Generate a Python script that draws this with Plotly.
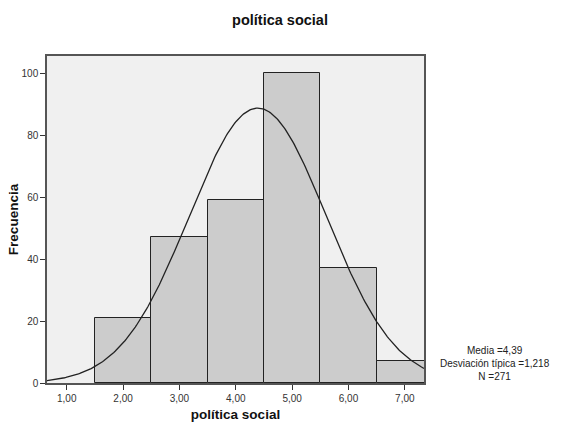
import numpy as np
import plotly.graph_objects as go

bin_centers = [2, 3, 4, 5, 6, 7]
counts = [21, 47, 59, 100, 37, 7]
mean_val = 4.39
sd_val = 1.218
n_val = 271
bin_width = 1.0
x_tick_vals = [1, 2, 3, 4, 5, 6, 7]
x_tick_text = ["1,00", "2,00", "3,00", "4,00", "5,00", "6,00", "7,00"]
y_tick_vals = [0, 20, 40, 60, 80, 100]

xr = [0.65, 7.34]
xs = np.linspace(xr[0], xr[1], 300)
ys = n_val * bin_width / (sd_val * np.sqrt(2 * np.pi)) * np.exp(-0.5 * ((xs - mean_val) / sd_val) ** 2)

fig = go.Figure()
fig.add_trace(go.Bar(x=bin_centers, y=counts, width=bin_width,
                     marker=dict(color="#cccccc", line=dict(color="#222222", width=1)),
                     hoverinfo="skip"))
fig.add_trace(go.Scatter(x=xs, y=ys, mode="lines", line=dict(color="#222222", width=1.3),
                         hoverinfo="skip"))

font_family = "Liberation Sans, Arial, sans-serif"
fig.update_layout(
    width=561, height=425,
    margin=dict(l=47, r=137, t=56, b=42, autoexpand=False),
    paper_bgcolor="white", plot_bgcolor="#f0f0f0",
    showlegend=False, bargap=0,
    font=dict(family=font_family, size=11, color="#333333"),
    title=dict(text="<b>política social</b>", x=280 / 561, xanchor="center",
               y=1 - 20 / 425, yanchor="middle", font=dict(size=14.5, color="#111111")),
)
fig.update_xaxes(range=xr, tickvals=x_tick_vals, ticktext=x_tick_text,
                 ticks="outside", ticklen=5, tickcolor="#333333",
                 showgrid=False, zeroline=False,
                 showline=True, linecolor="#555555", linewidth=1.5, mirror=True,
                 title=dict(text="<b>política social</b>", font=dict(size=13.5, color="#111111"),
                            standoff=7),
                 tickfont=dict(size=10, color="#333333"))
fig.update_yaxes(range=[0, 105.6], tickvals=y_tick_vals,
                 ticks="outside", ticklen=5, tickcolor="#333333",
                 showgrid=False, zeroline=False,
                 showline=True, linecolor="#555555", linewidth=1.5, mirror=True,
                 title=dict(text="<b>Frecuencia</b>", font=dict(size=13.5, color="#111111"),
                            standoff=0),
                 tickfont=dict(size=10, color="#333333"))
fig.add_annotation(xref="paper", yref="paper", x=(495 - 47) / (424 - 47), y=(383 - 363) / (383 - 56),
                   text=f"Media ={str(mean_val).replace('.', ',')}<br>Desviación típica ={str(sd_val).replace('.', ',')}<br>N ={n_val}",
                   showarrow=False, xanchor="center", yanchor="middle", align="center",
                   font=dict(size=10, color="#222222"))
fig.write_html("out.html", config={"displayModeBar": False},
               post_script="document.body.style.margin='0';document.body.style.overflow='hidden';")
